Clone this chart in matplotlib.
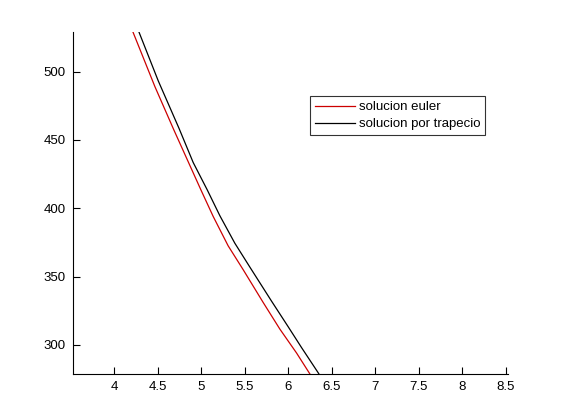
import matplotlib.pyplot as plt

# curves (x, y)
euler_x = [4.146, 4.218, 4.468, 4.686, 4.890, 5.000, 5.138, 5.310, 5.483,
           5.713, 5.905, 6.097, 6.241, 6.338]
euler_y = [540.0, 528.6, 489.0, 457.3, 428.5, 413.0, 394.0, 372.5, 355.0,
           331.0, 311.5, 294.0, 279.6, 270.0]
trap_x = [4.215, 4.287, 4.506, 4.745, 4.908, 5.070, 5.215, 5.387, 5.559,
          5.809, 6.000, 6.154, 6.345, 6.441]
trap_y = [540.0, 528.6, 493.3, 458.5, 433.5, 413.4, 394.5, 374.4, 357.0,
          332.0, 313.3, 298.0, 279.6, 270.0]

x_ticks = [4, 4.5, 5, 5.5, 6, 6.5, 7, 7.5, 8, 8.5]
y_ticks = [300, 350, 400, 450, 500]

plt.rcParams['font.family'] = ['Liberation Sans', 'DejaVu Sans']

fig = plt.figure(figsize=(5.61, 4.2), dpi=100)
ax = fig.add_axes([0.13, 0.11, 0.775, 0.815])

ax.plot(euler_x, euler_y, color='#cc0000', linewidth=0.9, label='solucion euler')
ax.plot(trap_x, trap_y, color='black', linewidth=0.9, label='solucion por trapecio')

ax.set_xlim(3.525, 8.525)
ax.set_ylim(278.8, 529.4)
ax.set_xticks(x_ticks)
ax.set_xticklabels([f'{t:g}' for t in x_ticks])
ax.set_yticks(y_ticks)

ax.spines['top'].set_visible(False)
ax.spines['right'].set_visible(False)
ax.tick_params(direction='in', length=5, width=0.8, labelsize=9.5, pad=5)

leg = ax.legend(loc='upper left', bbox_to_anchor=(0.545, 0.812), fontsize=9.5,
                frameon=True, fancybox=False, borderpad=0.4, labelspacing=0.35,
                handlelength=3.0, handletextpad=0.3, borderaxespad=0)
leg.get_frame().set_edgecolor('black')
leg.get_frame().set_linewidth(0.8)

fig.savefig('out.png', dpi=100)
